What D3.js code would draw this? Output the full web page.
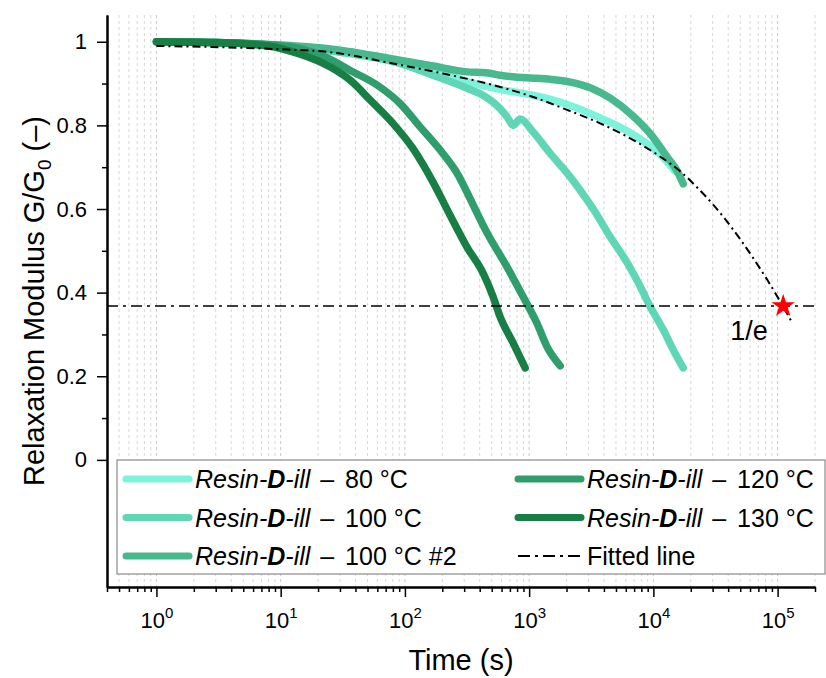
<!DOCTYPE html>
<html>
<head>
<meta charset="utf-8">
<script src="https://cdn.jsdelivr.net/npm/d3@7"></script>
<style>
  body { margin: 0; background: #fff; }
  text { font-family: "Liberation Sans", Arial, sans-serif; fill: #000; }
</style>
</head>
<body>
<div class="chart"></div>
<script>
// size + margins
var width = 826;
var height = 678;
var margin = {top: 15, bottom: 91, left: 107, right: 11};
var w = width - margin.left - margin.right;
var h = height - margin.top - margin.bottom;

// time (s) and G/G0
var t80 = [1, 3, 10, 30, 91, 168, 316, 584, 1077, 2024, 3730, 6890, 11400, 15000];
var g80 = [1.0, 0.998, 0.99, 0.976, 0.952, 0.935, 0.905, 0.886, 0.872, 0.85, 0.818, 0.778, 0.73, 0.69];

var t100 = [1, 3, 10, 30, 91, 168, 316, 425, 584, 665, 743, 847, 1077, 1477, 2024, 2576, 3280, 4500, 6170, 7850, 9440, 12020, 14460, 17400];
var g100 = [1.0, 0.998, 0.99, 0.975, 0.948, 0.92, 0.889, 0.872, 0.84, 0.82, 0.8, 0.815, 0.784, 0.733, 0.686, 0.645, 0.6, 0.533, 0.471, 0.414, 0.366, 0.311, 0.263, 0.22];

var t100b = [1, 3, 10, 30, 91, 168, 316, 450, 584, 800, 1077, 1500, 2024, 3100, 4500, 6890, 9440, 12940, 15600, 17400];
var g100b = [1.0, 0.998, 0.992, 0.98, 0.956, 0.942, 0.928, 0.926, 0.92, 0.915, 0.913, 0.91, 0.905, 0.89, 0.865, 0.822, 0.78, 0.724, 0.69, 0.66];

var t120 = [1, 3, 8, 15, 23.6, 36, 60, 91, 132, 192, 270, 316, 458, 665, 895, 1155, 1396, 1778];
var g120 = [1.0, 0.998, 0.993, 0.982, 0.962, 0.932, 0.896, 0.853, 0.797, 0.741, 0.68, 0.64, 0.543, 0.461, 0.39, 0.327, 0.27, 0.225];

var t130 = [1, 3, 8, 14.4, 20.8, 36.3, 52.4, 80, 116, 168, 231, 316, 425, 513, 584, 743, 929];
var g130 = [1.0, 0.998, 0.99, 0.97, 0.952, 0.908, 0.861, 0.805, 0.745, 0.665, 0.585, 0.509, 0.447, 0.39, 0.342, 0.28, 0.22];

var tFit = [1, 10, 23.6, 80, 203, 584, 1077, 2024, 3730, 6890, 11370, 16480, 22590, 30400, 44060, 63850, 82800, 105400, 131500];
var gFit = [0.99, 0.982, 0.976, 0.948, 0.924, 0.892, 0.868, 0.837, 0.805, 0.765, 0.725, 0.69, 0.651, 0.61, 0.55, 0.482, 0.43, 0.378, 0.327];

var oneOverE = 0.368;
var tStar = 111000;

var seriesNames = ["80 °C", "100 °C", "100 °C #2", "120 °C", "130 °C"];
var seriesColors = ["#7df2dc", "#5fd7b6", "#48b88e", "#2f9e6c", "#187f44"];
var seriesT = [t80, t100, t100b, t120, t130];
var seriesG = [g80, g100, g100b, g120, g130];

var xMajor = [1, 10, 100, 1000, 10000, 100000];
var xExp = ["0", "1", "2", "3", "4", "5"];
var yMajor = [0, 0.2, 0.4, 0.6, 0.8, 1];
var yMinor = [0.1, 0.3, 0.5, 0.7, 0.9];

const svg = d3.select(".chart")
  .append("svg")
  .attr("width", width)
  .attr("height", height)
  .append("g")
  .attr("transform", "translate(" + margin.left + "," + margin.top + ")");

var x = d3.scaleLog().domain([0.4, 2e5]).range([0, w]);
var y = d3.scaleLinear().domain([-0.304, 1.064]).range([h, 0]);

// vertical dotted grid on every log tick
var xAll = x.ticks();
svg.append("g")
  .selectAll("line")
  .data(xAll)
  .enter()
  .append("line")
  .attr("x1", d => x(d))
  .attr("x2", d => x(d))
  .attr("y1", 0)
  .attr("y2", h)
  .attr("stroke", d => xMajor.indexOf(d) >= 0 ? "#c8c8c8" : "#d8d8d8")
  .attr("stroke-width", 1)
  .attr("stroke-dasharray", "3,3");

// data curves
var line = d3.line()
  .x(d => x(d[0]))
  .y(d => y(d[1]))
  .curve(d3.curveMonotoneX);

seriesT.forEach(function(ts, i) {
  var pts = ts.map((t, j) => [t, seriesG[i][j]]);
  svg.append("path")
    .attr("d", line(pts))
    .attr("fill", "none")
    .attr("stroke", seriesColors[i])
    .attr("stroke-width", 7.5)
    .attr("stroke-linecap", "round")
    .attr("stroke-linejoin", "round");
});

// 1/e reference line
svg.append("line")
  .attr("x1", 0)
  .attr("x2", w)
  .attr("y1", y(oneOverE))
  .attr("y2", y(oneOverE))
  .attr("stroke", "#000")
  .attr("stroke-width", 1.5)
  .attr("stroke-dasharray", "11,5,3,5");

// fitted line
svg.append("path")
  .attr("d", line(tFit.map((t, j) => [t, gFit[j]])))
  .attr("fill", "none")
  .attr("stroke", "#000")
  .attr("stroke-width", 2)
  .attr("stroke-dasharray", "8,4,2,4");

svg.append("path")
  .attr("d", d3.symbol().type(d3.symbolStar).size(170)())
  .attr("transform", "translate(" + x(tStar) + "," + y(oneOverE) + ")")
  .attr("fill", "#ff0000");

svg.append("text")
  .attr("x", x(tStar) - 53)
  .attr("y", y(oneOverE) + 34)
  .attr("font-size", 27)
  .text("1/e");

// legend
var lg = svg.append("g").attr("transform", "translate(10,445)");
lg.append("rect")
  .attr("width", 708)
  .attr("height", 114)
  .attr("fill", "#fff")
  .attr("stroke", "#8a8a8a")
  .attr("stroke-width", 1.2);

var legendPos = [[0, 0], [0, 1], [0, 2], [1, 0], [1, 1]];
var colX = [9, 401];
seriesNames.forEach(function(name, i) {
  var p = legendPos[i];
  var g = lg.append("g").attr("transform", "translate(" + colX[p[0]] + "," + (19 + 38.5 * p[1]) + ")");
  g.append("line")
    .attr("x1", 0).attr("x2", 63)
    .attr("stroke", seriesColors[i])
    .attr("stroke-width", 7)
    .attr("stroke-linecap", "round");
  var tx = g.append("text").attr("x", 69).attr("y", 9).attr("font-size", 25);
  tx.append("tspan").attr("font-style", "italic").text("Resin-");
  tx.append("tspan").attr("font-style", "italic").attr("font-weight", "bold").text("D");
  tx.append("tspan").attr("font-style", "italic").text("-ill");
  tx.append("tspan").attr("dx", 3).text(" \u2013 ");
  tx.append("tspan").attr("dx", 4).text(name);
});
var gf = lg.append("g").attr("transform", "translate(" + colX[1] + "," + (19 + 38.5 * 2) + ")");
gf.append("line")
  .attr("x1", 0).attr("x2", 63)
  .attr("stroke", "#000")
  .attr("stroke-width", 1.8)
  .attr("stroke-dasharray", "12,5,3,5");
gf.append("text").attr("x", 69).attr("y", 9).attr("font-size", 25).text("Fitted line");

// axes
var xMinorAxis = svg.append("g")
  .attr("transform", "translate(0," + h + ")")
  .call(d3.axisBottom(x).tickValues(xAll.filter(d => xMajor.indexOf(d) < 0)).tickSize(5).tickSizeOuter(0).tickFormat(""));
var xAxis = svg.append("g")
  .attr("transform", "translate(0," + h + ")")
  .call(d3.axisBottom(x).tickValues(xMajor).tickSize(10).tickSizeOuter(0).tickFormat(""));

xAxis.selectAll(".tick")
  .append("text")
  .attr("y", 41)
  .attr("text-anchor", "middle")
  .attr("font-size", 22)
  .each(function(d, i) {
    var t = d3.select(this);
    t.append("tspan").text("10");
    t.append("tspan").attr("font-size", 15).attr("dy", -10).text(xExp[i]);
  });

var yMinorAxis = svg.append("g")
  .call(d3.axisLeft(y).tickValues(yMinor).tickSize(5).tickSizeOuter(0).tickFormat(""));
var yAxis = svg.append("g")
  .call(d3.axisLeft(y).tickValues(yMajor).tickSize(10).tickPadding(10).tickSizeOuter(0).tickFormat(d => String(d)));
yAxis.selectAll("text").attr("font-size", 22).attr("font-family", null).style("fill", "#000");

svg.selectAll(".domain").attr("stroke", "#000").attr("stroke-width", 2);
svg.selectAll(".tick line").attr("stroke", "#000").attr("stroke-width", 1.5);

// axis titles
svg.append("text")
  .attr("x", w / 2)
  .attr("y", h + 83)
  .attr("text-anchor", "middle")
  .attr("font-size", 29)
  .text("Time (s)");

var yt = svg.append("text")
  .attr("transform", "translate(" + (-63) + "," + (h / 2) + ") rotate(-90)")
  .attr("text-anchor", "middle")
  .attr("font-size", 29);
yt.append("tspan").text("Relaxation Modulus G/G");
yt.append("tspan").attr("font-size", 19).attr("dy", 7).text("0");
yt.append("tspan").attr("dy", -7).text(" (\u2013)");
</script>
</body>
</html>
